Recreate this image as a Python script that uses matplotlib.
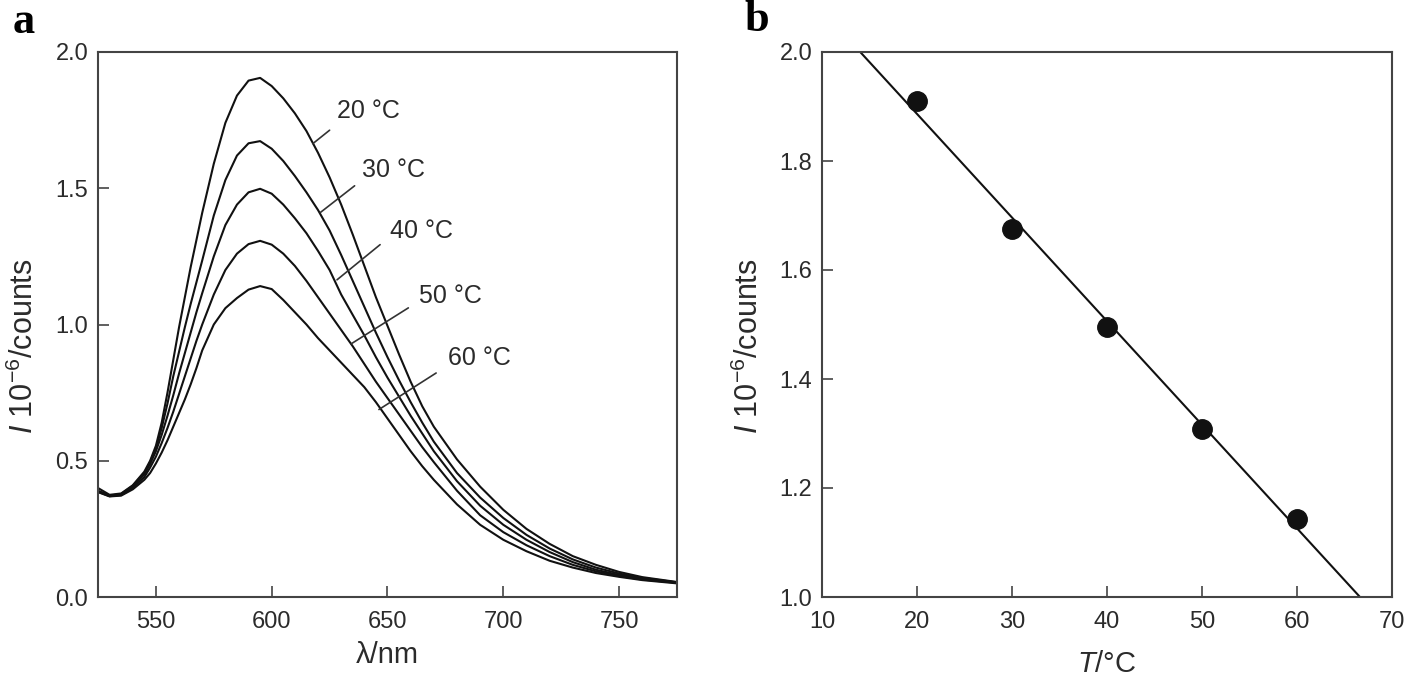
import matplotlib
matplotlib.use("Agg")
import matplotlib.pyplot as plt
import numpy as np

plt.rcParams['font.family'] = ['Liberation Sans', 'DejaVu Sans']
plt.rcParams['mathtext.fontset'] = 'custom'
plt.rcParams['mathtext.rm'] = 'Liberation Sans'
plt.rcParams['mathtext.it'] = 'Liberation Sans:italic'

txt_col = '#2b2b2b'
ax_col = '#444444'

# ---- data ----
wl = [525, 530, 535, 540, 545, 547.5, 550, 552.5, 555, 557.5, 560, 562.5,
      565, 567.5, 570, 575, 580, 585, 590, 595, 600, 605, 610, 615, 620,
      625, 630, 635, 640, 645, 650, 655, 660, 665, 670, 680, 690, 700, 710,
      720, 730, 740, 750, 760, 775]

I_20 = [0.400, 0.375, 0.380, 0.410, 0.460, 0.500, 0.555, 0.640, 0.750, 0.870,
        0.990, 1.100, 1.210, 1.310, 1.410, 1.590, 1.740, 1.840, 1.895, 1.905,
        1.875, 1.830, 1.775, 1.710, 1.630, 1.540, 1.440, 1.330, 1.215, 1.100,
        0.995, 0.890, 0.790, 0.700, 0.625, 0.505, 0.405, 0.320, 0.250, 0.195,
        0.150, 0.118, 0.092, 0.073, 0.055]
I_30 = [0.390, 0.372, 0.378, 0.408, 0.455, 0.495, 0.545, 0.620, 0.710, 0.810,
        0.900, 0.990, 1.075, 1.155, 1.235, 1.400, 1.530, 1.620, 1.665, 1.673,
        1.645, 1.600, 1.545, 1.485, 1.420, 1.345, 1.255, 1.160, 1.065, 0.970,
        0.880, 0.795, 0.715, 0.640, 0.570, 0.455, 0.365, 0.290, 0.228, 0.178,
        0.138, 0.108, 0.086, 0.070, 0.054]
I_40 = [0.388, 0.371, 0.376, 0.405, 0.450, 0.488, 0.535, 0.595, 0.665, 0.740,
        0.820, 0.895, 0.970, 1.045, 1.115, 1.250, 1.365, 1.440, 1.485, 1.498,
        1.480, 1.440, 1.390, 1.335, 1.270, 1.200, 1.110, 1.035, 0.960, 0.880,
        0.805, 0.735, 0.665, 0.600, 0.535, 0.425, 0.335, 0.265, 0.210, 0.165,
        0.128, 0.100, 0.081, 0.067, 0.053]
I_50 = [0.386, 0.370, 0.374, 0.400, 0.440, 0.475, 0.515, 0.565, 0.620, 0.680,
        0.745, 0.810, 0.875, 0.940, 1.000, 1.110, 1.200, 1.260, 1.295, 1.307,
        1.293, 1.260, 1.215, 1.160, 1.100, 1.040, 0.980, 0.920, 0.855, 0.790,
        0.730, 0.670, 0.610, 0.550, 0.495, 0.390, 0.300, 0.238, 0.190, 0.150,
        0.118, 0.094, 0.077, 0.064, 0.052]
I_60 = [0.385, 0.369, 0.372, 0.395, 0.430, 0.455, 0.490, 0.530, 0.575, 0.625,
        0.675, 0.725, 0.780, 0.840, 0.905, 1.000, 1.060, 1.097, 1.128, 1.141,
        1.130, 1.090, 1.045, 1.000, 0.950, 0.905, 0.860, 0.815, 0.770, 0.715,
        0.655, 0.595, 0.535, 0.480, 0.430, 0.340, 0.265, 0.210, 0.168, 0.133,
        0.108, 0.088, 0.074, 0.062, 0.050]

temps = [20, 30, 40, 50, 60]
peak_I = [1.91, 1.675, 1.495, 1.308, 1.143]

# label text position (lambda, I) and leader line ends
lab_xy = [(628, 1.784), (639, 1.566), (651, 1.344), (663.5, 1.104), (676, 0.877)]
lead = [((617.8, 1.664), (625.0, 1.713)),
        ((621.0, 1.411), (635.8, 1.509)),
        ((628.2, 1.164), (646.8, 1.293)),
        ((634.3, 0.929), (659.0, 1.061)),
        ((646.3, 0.688), (671.0, 0.822))]

fig = plt.figure(figsize=(14.18, 6.93), dpi=100)
ax1 = fig.add_axes([98 / 1418, 1 - 597 / 693, 579 / 1418, 545 / 693])
ax2 = fig.add_axes([822 / 1418, 1 - 597 / 693, 570 / 1418, 545 / 693])

# ---- panel a ----
for y in [I_20, I_30, I_40, I_50, I_60]:
    ax1.plot(wl, y, color='#111111', lw=1.5)

for t, (lx, ly), (p0, p1) in zip(temps, lab_xy, lead):
    ax1.annotate('', xy=p0, xytext=p1,
                 arrowprops=dict(arrowstyle='-', color='#333333', lw=1.2,
                                 shrinkA=0, shrinkB=0))
    ax1.text(lx, ly, '%d \u00b0C' % t, fontsize=18, color=txt_col,
             va='center', ha='left')

ax1.set_xlim(525, 775)
ax1.set_ylim(0, 2.0)
ax1.set_xticks([550, 600, 650, 700, 750])
ax1.set_yticks([0.0, 0.5, 1.0, 1.5, 2.0])
ax1.set_yticklabels(['0.0', '0.5', '1.0', '1.5', '2.0'])
ax1.set_xlabel('\u03bb/nm', fontsize=21, color=txt_col, labelpad=6)
ax1.set_ylabel('$I$ 10$^{-6}$/counts', fontsize=22, color=txt_col)
ax1.yaxis.set_label_coords(-0.1, 0.46)

# ---- panel b ----
ax2.plot(temps, peak_I, 'o', color='#111111', ms=14)
k, b = np.polyfit(temps, peak_I, 1)
tx = np.array([10, 70])
ax2.plot(tx, k * tx + b, color='#111111', lw=1.5)
ax2.set_xlim(10, 70)
ax2.set_ylim(1.0, 2.0)
ax2.set_xticks([10, 20, 30, 40, 50, 60, 70])
ax2.set_yticks([1.0, 1.2, 1.4, 1.6, 1.8, 2.0])
ax2.set_xlabel('$T$/\u00b0C', fontsize=21, color=txt_col, labelpad=12)
ax2.set_ylabel('$I$ 10$^{-6}$/counts', fontsize=22, color=txt_col)
ax2.yaxis.set_label_coords(-0.1, 0.46)

for ax in (ax1, ax2):
    for s in ax.spines.values():
        s.set_color(ax_col)
        s.set_linewidth(1.5)
    ax.tick_params(direction='in', length=8, width=1.2, color=ax_col,
                   labelsize=17, labelcolor=txt_col,
                   top=False, right=False)
    ax.tick_params(axis='x', pad=10)
    ax.tick_params(axis='y', pad=7)

fig.text(24 / 1418, 1 - 22 / 693, 'a', fontsize=32, fontweight='bold',
         family='Liberation Serif', va='center', ha='center')
fig.text(757 / 1418, 1 - 20 / 693, 'b', fontsize=32, fontweight='bold',
         family='Liberation Serif', va='center', ha='center')

fig.savefig('out.png', dpi=100)
